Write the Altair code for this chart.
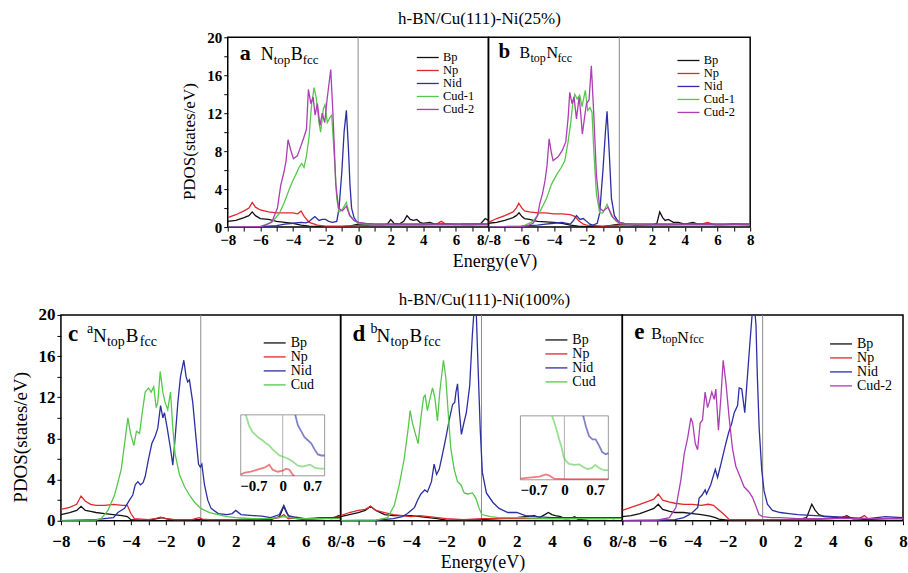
import altair as alt
import pandas as pd

SERIF = "Liberation Serif"

# ---------------- data (energy eV, PDOS states/eV) ----------------
A_BP = [(-8,0.6),(-7.5,0.7),(-7,1.0),(-6.7,1.2),(-6.5,1.6),(-6.3,1.2),(-6,0.9),(-5.5,0.8),(-5,0.6),(-4.5,0.5),(-4,0.4),(-3.5,0.2),(-3,0.1),(-2,0.05),(-1,0.05),(-0.5,0.1),(0,0.3),(0.5,0.3),(1,0.25),(1.5,0.2),(1.8,0.3),(2.0,0.8),(2.2,0.4),(2.5,0.3),(2.8,0.6),(3.0,1.2),(3.2,0.8),(3.4,0.7),(3.6,0.8),(3.8,0.5),(4.0,0.4),(4.4,0.5),(4.7,0.3),(5,0.3),(5.5,0.3),(6,0.25),(6.5,0.3),(7,0.3),(7.5,0.3),(7.8,0.9),(8,0.7)]
A_NP = [(-8,1.0),(-7.5,1.3),(-7,1.7),(-6.7,2.0),(-6.5,2.6),(-6.3,2.1),(-6,1.8),(-5.5,1.6),(-5,1.5),(-4.5,1.5),(-4,1.5),(-3.7,1.4),(-3.5,1.7),(-3.3,1.1),(-3,0.5),(-2.5,0.2),(-2,0.1),(-1,0.1),(0,0.15),(1,0.2),(2,0.2),(3,0.2),(4,0.2),(4.8,0.3),(5.1,0.6),(5.4,0.3),(6,0.3),(6.5,0.2),(7,0.2),(7.5,0.3),(8,0.3)]
A_NID = [(-8,0),(-6,0.05),(-5,0.15),(-4.5,0.3),(-4,0.4),(-3.5,0.5),(-3.2,0.45),(-3,0.6),(-2.8,0.9),(-2.65,1.1),(-2.4,0.7),(-2.2,0.8),(-2,0.8),(-1.8,0.6),(-1.58,0.5),(-1.31,0.6),(-1.17,2.0),(-1.0,5.8),(-0.86,10.0),(-0.72,12.3),(-0.6,8.5),(-0.5,4.5),(-0.4,2.0),(-0.25,1.0),(-0.1,0.6),(0.1,0.4),(1,0.3),(2,0.3),(3,0.3),(4,0.3),(5,0.3),(6,0.3),(7,0.3),(8,0.3)]
A_CUD1 = [(-8,0),(-6,0.05),(-5.6,0.3),(-5.26,0.6),(-4.85,1.4),(-4.55,2.5),(-4.24,3.9),(-4.03,4.8),(-3.83,5.5),(-3.62,6.3),(-3.46,6.7),(-3.32,6.3),(-3.17,7.5),(-3.01,9.5),(-2.85,13.0),(-2.7,14.7),(-2.56,13.5),(-2.4,11.0),(-2.3,10.0),(-2.13,12.5),(-2.03,12.9),(-1.89,11.0),(-1.74,11.5),(-1.62,11.8),(-1.48,8.0),(-1.31,3.0),(-1.17,1.6),(-1.0,1.8),(-0.85,2.2),(-0.72,2.6),(-0.6,1.8),(-0.52,1.3),(-0.25,0.7),(0.05,0.4),(0.5,0.3),(1,0.25),(2,0.2),(4,0.2),(6,0.2),(8,0.2)]
A_CUD2 = [(-8,0),(-6,0.05),(-5.7,0.2),(-5.3,0.5),(-4.95,2.0),(-4.75,4.4),(-4.55,5.8),(-4.42,7.0),(-4.3,9.2),(-4.13,8.1),(-3.97,7.2),(-3.73,7.5),(-3.52,8.5),(-3.32,9.5),(-3.17,10.3),(-3.05,14.5),(-2.9,13.0),(-2.76,13.7),(-2.64,11.8),(-2.5,13.0),(-2.34,10.7),(-2.2,12.0),(-2.05,11.0),(-1.9,13.5),(-1.68,16.6),(-1.54,11.8),(-1.37,4.5),(-1.2,2.0),(-0.97,1.7),(-0.72,2.2),(-0.52,1.2),(-0.25,0.7),(0.05,0.5),(0.5,0.35),(1,0.3),(2,0.3),(4,0.3),(6,0.3),(8,0.3)]

B_BP = [(-8,0.4),(-7.5,0.5),(-7,0.7),(-6.5,1.0),(-6.3,1.2),(-6.13,1.5),(-5.95,1.1),(-5.8,0.9),(-5.5,0.8),(-5,0.6),(-4.5,0.55),(-4,0.5),(-3.5,0.4),(-3,0.2),(-2.5,0.1),(-2,0.05),(-1,0.05),(0,0.3),(0.5,0.3),(1,0.2),(2,0.2),(2.3,0.4),(2.47,1.6),(2.65,1.0),(2.8,0.7),(3.0,0.8),(3.3,0.5),(3.6,0.5),(4,0.3),(4.5,0.5),(4.8,0.3),(5.5,0.3),(6,0.2),(7,0.3),(8,0.2)]
B_NP = [(-8,0.5),(-7.5,0.9),(-7,1.2),(-6.5,1.6),(-6.3,2.0),(-6.15,2.5),(-5.95,2.0),(-5.8,1.7),(-5.5,1.6),(-5,1.5),(-4.5,1.5),(-4,1.4),(-3.5,1.4),(-3,1.3),(-2.7,1.1),(-2.5,0.7),(-2.2,0.3),(-2,0.2),(-1,0.1),(0,0.2),(1,0.2),(2,0.2),(3,0.2),(4,0.3),(5,0.3),(5.4,0.5),(5.7,0.3),(6,0.2),(7,0.3),(8,0.3)]
B_NID = [(-8,0),(-6,0.1),(-5,0.2),(-4.5,0.3),(-4,0.4),(-3.5,0.5),(-3,0.3),(-2.8,0.7),(-2.62,1.2),(-2.4,0.8),(-2.2,0.9),(-2.0,0.6),(-1.8,0.3),(-1.6,0.2),(-1.35,0.4),(-1.2,1.5),(-1.0,6.0),(-0.85,10.0),(-0.75,12.2),(-0.62,8.0),(-0.48,3.0),(-0.3,1.2),(-0.15,0.8),(0,0.5),(0.5,0.3),(2,0.3),(4,0.3),(6,0.3),(8,0.3)]
B_CUD1 = [(-8,0),(-6,0.05),(-5.88,0.1),(-5.27,0.6),(-4.86,1.6),(-4.45,3.0),(-4.15,4.5),(-3.84,5.5),(-3.54,6.3),(-3.33,7.0),(-3.13,9.0),(-2.97,11.0),(-2.85,13.0),(-2.72,14.0),(-2.58,13.5),(-2.42,13.9),(-2.28,12.7),(-2.08,14.4),(-1.93,12.3),(-1.79,12.6),(-1.67,12.1),(-1.56,8.0),(-1.4,3.5),(-1.2,1.5),(-1.0,1.5),(-0.75,2.4),(-0.49,1.2),(-0.18,0.6),(0.1,0.4),(0.5,0.3),(2,0.2),(4,0.2),(6,0.2),(8,0.2)]
B_CUD2 = [(-8,0),(-6,0.05),(-5.6,0.15),(-5.27,0.4),(-5.0,1.2),(-4.86,2.5),(-4.7,3.5),(-4.55,4.8),(-4.42,6.5),(-4.29,9.3),(-4.15,7.8),(-4.05,7.0),(-3.74,7.4),(-3.48,8.1),(-3.27,9.0),(-3.13,11.5),(-3.03,14.2),(-2.89,13.0),(-2.77,13.7),(-2.62,11.4),(-2.46,13.7),(-2.36,12.0),(-2.26,9.8),(-2.13,11.5),(-2.01,13.0),(-1.85,13.4),(-1.71,17.0),(-1.56,11.8),(-1.4,5.5),(-1.2,2.0),(-0.99,1.7),(-0.69,2.1),(-0.42,1.1),(-0.08,0.55),(0.3,0.35),(1,0.3),(2,0.3),(4,0.3),(6,0.3),(8,0.3)]

C_BP = [(-8,0.6),(-7.5,0.8),(-7.1,1.0),(-6.85,1.4),(-6.6,1.0),(-6.3,0.9),(-6,0.8),(-5.5,0.7),(-5,0.6),(-4.5,0.5),(-4.2,0.4),(-4,0.1),(-3.5,0.05),(-3,0.05),(-2.5,0.2),(-2.2,0.3),(-2,0.2),(-1.5,0.05),(0,0.1),(1,0.1),(2,0.1),(3,0.15),(4,0.1),(4.5,0.4),(4.75,1.4),(4.9,0.8),(5.1,0.3),(5.5,0.2),(6,0.1),(6.5,0.2),(7,0.3),(7.5,0.2),(7.9,0.5),(8,0.3)]
C_NP = [(-8,1.1),(-7.5,1.3),(-7.1,1.6),(-6.85,2.4),(-6.6,1.9),(-6.3,1.6),(-6,1.5),(-5.5,1.5),(-5,1.6),(-4.5,1.5),(-4.2,1.5),(-4.0,0.7),(-3.8,0.2),(-3,0.1),(-2.6,0.2),(-2.3,0.35),(-2,0.2),(-1.5,0.1),(-0.5,0.1),(-0.1,0.3),(0.1,0.15),(0.5,0.1),(1,0.1),(2,0.1),(3,0.15),(4,0.2),(4.5,0.3),(4.75,0.6),(5,0.2),(5.5,0.35),(6,0.1),(7,0.2),(8,0.4)]
C_NID = [(-8,0),(-6,0.1),(-5,0.3),(-4.74,0.8),(-4.36,1.2),(-4.08,2.0),(-3.89,2.5),(-3.75,3.5),(-3.6,3.8),(-3.45,3.5),(-3.3,3.7),(-3.18,4.3),(-2.99,6.0),(-2.8,7.5),(-2.61,8.2),(-2.46,9.0),(-2.3,11.2),(-2.17,10.0),(-2.08,10.5),(-1.92,9.0),(-1.73,7.0),(-1.6,5.4),(-1.47,8.0),(-1.31,11.5),(-1.16,14.0),(-0.97,15.6),(-0.84,14.0),(-0.75,13.5),(-0.65,13.7),(-0.46,11.5),(-0.27,8.0),(-0.13,5.5),(-0.03,5.2),(0.06,5.5),(0.21,3.5),(0.4,2.0),(0.59,1.2),(1,0.7),(1.5,0.6),(1.8,0.7),(2.0,1.0),(2.3,0.6),(3,0.5),(3.5,0.45),(4,0.3),(4.5,0.6),(4.75,1.5),(5,0.5),(5.5,0.3),(6,0.2),(7,0.3),(8,0.3)]
C_CUD = [(-8,0),(-6,0.05),(-5.7,0.2),(-5.31,1.0),(-4.93,2.5),(-4.55,5.0),(-4.36,7.5),(-4.17,10.0),(-4.02,8.5),(-3.83,7.3),(-3.68,8.7),(-3.5,8.5),(-3.35,10.5),(-3.18,12.5),(-2.99,12.9),(-2.84,12.5),(-2.69,13.0),(-2.55,11.0),(-2.46,11.5),(-2.32,14.5),(-2.17,12.5),(-2.04,11.5),(-1.89,10.8),(-1.73,12.5),(-1.6,9.0),(-1.47,6.5),(-1.22,4.5),(-0.93,3.3),(-0.65,2.5),(-0.36,1.8),(0,1.2),(0.5,0.8),(1,0.6),(1.5,0.4),(2,0.3),(3,0.2),(4,0.2),(4.75,0.4),(5.5,0.2),(6,0.2),(7,0.2),(8,0.2)]

D_BP = [(-8,0.4),(-7.5,0.6),(-7,0.8),(-6.6,1.0),(-6.3,1.4),(-6.0,1.0),(-5.5,0.6),(-5,0.5),(-4.5,0.5),(-4,0.5),(-3.5,0.4),(-3,0.3),(-2.5,0.2),(-2,0.05),(-1,0.05),(0,0.1),(1,0.2),(2,0.3),(2.5,0.4),(3,0.5),(3.3,0.3),(3.6,0.6),(3.8,0.8),(4.0,0.6),(4.2,0.5),(4.5,0.4),(4.7,0.2),(5.0,0.2),(5.3,0.4),(5.5,0.1),(6,0.2),(6.5,0.3),(7,0.3),(7.5,0.2),(8,0.3)]
D_NP = [(-8,0.5),(-7.5,0.8),(-7,1.0),(-6.6,1.1),(-6.3,1.4),(-6.0,1.0),(-5.5,0.8),(-5,0.6),(-4.5,0.5),(-4,0.4),(-3.5,0.5),(-3,0.4),(-2.5,0.3),(-2,0.2),(-1,0.1),(0,0.2),(1,0.2),(2,0.2),(3,0.2),(4,0.2),(5,0.2),(6,0.2),(7,0.2),(8,0.3)]
D_NID = [(-8,0),(-6,0.05),(-5,0.2),(-4.5,0.4),(-4.2,0.7),(-4,1.0),(-3.8,1.3),(-3.63,2.0),(-3.44,2.6),(-3.22,3.0),(-3.07,2.8),(-2.84,3.8),(-2.69,5.5),(-2.55,4.5),(-2.4,5.0),(-2.21,6.5),(-2.03,8.0),(-1.83,9.8),(-1.64,11.3),(-1.52,11.5),(-1.45,12.5),(-1.36,13.3),(-1.25,10.5),(-1.14,8.4),(-1.0,9.5),(-0.86,10.5),(-0.67,13.1),(-0.52,18.0),(-0.42,20.5),(-0.3,20.5),(-0.22,16.3),(-0.07,8.9),(0.05,4.7),(0.28,2.7),(0.64,1.8),(1,1.2),(1.5,0.8),(2,0.8),(2.5,0.5),(3,0.4),(4,0.3),(5,0.3),(6,0.3),(7,0.3),(8,0.3)]
D_CUD = [(-8,0),(-6,0.05),(-5.33,0.3),(-4.95,1.5),(-4.67,3.5),(-4.39,6.0),(-4.16,9.0),(-4.05,10.7),(-3.92,9.5),(-3.73,8.3),(-3.6,7.5),(-3.44,10.0),(-3.29,12.0),(-3.2,12.2),(-3.07,10.7),(-2.91,12.0),(-2.78,12.9),(-2.65,12.0),(-2.5,9.7),(-2.37,12.5),(-2.27,14.0),(-2.16,15.6),(-2.03,14.0),(-1.87,10.0),(-1.74,7.0),(-1.55,5.0),(-1.36,3.8),(-1.17,3.5),(-0.98,2.7),(-0.79,2.6),(-0.51,2.7),(-0.32,2.2),(-0.13,1.2),(0.02,0.6),(0.5,0.4),(1,0.3),(2,0.3),(4,0.2),(6,0.2),(8,0.2)]

E_BP = [(-8,0.4),(-7.5,0.5),(-7,0.7),(-6.5,1.0),(-6.2,1.2),(-5.95,1.6),(-5.7,1.1),(-5.3,0.9),(-5,0.8),(-4.5,0.8),(-4,0.7),(-3.5,0.6),(-3,0.45),(-2.7,0.3),(-2.5,0.15),(-2,0.05),(-1,0.05),(0,0.05),(1,0.1),(2,0.1),(2.5,0.3),(2.8,1.6),(3.0,1.0),(3.2,0.6),(3.5,0.4),(4,0.35),(4.5,0.3),(4.8,0.5),(5.1,0.2),(6,0.1),(7,0.2),(8,0.2)]
E_NP = [(-8,1.0),(-7.5,1.3),(-7,1.6),(-6.5,1.9),(-6.2,2.1),(-5.95,2.6),(-5.7,2.0),(-5.3,1.8),(-5,1.7),(-4.5,1.6),(-4,1.6),(-3.5,1.5),(-3.1,1.6),(-2.8,1.5),(-2.6,1.2),(-2.2,0.6),(-1.9,0.1),(-1,0.1),(0,0.1),(1,0.1),(2,0.1),(3,0.1),(4,0.2),(4.8,0.4),(5.2,0.15),(5.5,0.2),(5.8,0.5),(6,0.2),(7,0.2),(8,0.3)]
E_NID = [(-8,0),(-6,0.05),(-5,0.1),(-4.5,0.3),(-4.19,0.6),(-4,0.8),(-3.7,1.3),(-3.62,2.2),(-3.45,2.5),(-3.28,3.0),(-3.2,2.6),(-2.96,3.5),(-2.7,5.0),(-2.57,4.2),(-2.38,5.5),(-2.13,7.3),(-1.95,8.5),(-1.76,9.5),(-1.62,10.5),(-1.43,11.2),(-1.34,12.9),(-1.19,12.8),(-1.02,10.5),(-0.9,13.3),(-0.73,17.2),(-0.58,20.5),(-0.45,20.5),(-0.38,19.0),(-0.3,13.9),(-0.2,9.0),(-0.05,4.9),(0.08,2.9),(0.27,1.6),(0.56,1.0),(1,0.8),(1.5,0.7),(2,0.6),(3,0.5),(4,0.4),(5,0.3),(6,0.2),(7,0.4),(8,0.3)]
E_CUD2 = [(-8,0),(-6,0.05),(-5.32,0.3),(-4.94,1.3),(-4.66,4.0),(-4.47,6.5),(-4.28,8.0),(-4.09,10.0),(-3.99,9.5),(-3.84,7.5),(-3.71,6.9),(-3.56,9.5),(-3.43,9.8),(-3.28,12.5),(-3.14,11.0),(-3.05,11.5),(-2.9,12.5),(-2.76,11.8),(-2.67,12.8),(-2.52,8.8),(-2.38,12.0),(-2.25,15.6),(-2.1,13.5),(-1.91,10.0),(-1.72,7.0),(-1.53,5.3),(-1.34,4.5),(-1.06,3.3),(-0.78,2.8),(-0.59,2.3),(-0.4,1.5),(-0.21,0.6),(0,0.4),(0.5,0.3),(1,0.3),(2,0.2),(4,0.2),(6,0.2),(8,0.2)]

# insets (zoom around the Fermi level)
INSET_X_DOMAIN = [-1, 1]
INSET_Y_DOMAIN = [0, 3]
INSET_TICKS = [-0.7, 0, 0.7]
C_IN_CUD = [(-0.88,3.0),(-0.8,2.46),(-0.72,2.16),(-0.64,2.0),(-0.56,1.85),(-0.48,1.75),(-0.4,1.6),(-0.32,1.5),(-0.24,1.3),(-0.16,1.15),(-0.08,1.0),(0,0.95),(0.12,0.85),(0.24,0.7),(0.36,0.5),(0.48,0.45),(0.56,0.5),(0.66,0.55),(0.76,0.4),(0.88,0.35),(1.0,0.35)]
C_IN_NID = [(0.3,3.0),(0.36,2.5),(0.44,2.2),(0.52,1.9),(0.6,1.75),(0.68,1.6),(0.76,1.3),(0.84,1.05),(0.92,1.0),(1.0,1.0)]
C_IN_NP = [(-1.0,0.05),(-0.92,0.15),(-0.76,0.2),(-0.6,0.3),(-0.44,0.4),(-0.32,0.55),(-0.24,0.3),(-0.12,0.2),(0,0.25),(0.08,0.35),(0.16,0.3),(0.24,0.05),(0.28,0.0)]
D_IN_CUD = [(-0.28,3.0),(-0.23,2.7),(-0.17,2.3),(-0.12,1.9),(-0.06,1.5),(-0.02,1.1),(0.03,0.9),(0.11,0.75),(0.22,0.7),(0.34,0.72),(0.43,0.6),(0.52,0.5),(0.62,0.55),(0.7,0.7),(0.79,0.55),(0.9,0.45),(1.0,0.45)]
D_IN_NID = [(0.43,3.0),(0.49,2.5),(0.56,2.05),(0.64,1.9),(0.71,1.9),(0.79,1.6),(0.86,1.3),(0.94,1.2),(1.0,1.25)]
D_IN_NP = [(-1.0,0.05),(-0.8,0.1),(-0.57,0.15),(-0.42,0.25),(-0.34,0.2),(-0.23,0.05),(0,0.03),(1.0,0.03)]

X_TICKS = list(range(-8, 9))
Y_TICKS = list(range(0, 21, 2))

COLORS = {"Bp": "#111111", "Np": "#e3262b", "Nid": "#2b2fa3",
          "Cud-1": "#55c84b", "Cud": "#55c84b", "Cud-2": "#ad3db3"}
WIDTHS = {"Bp": 1.3, "Np": 1.3, "Nid": 1.9, "Cud-1": 2.5, "Cud": 2.5, "Cud-2": 2.3}
LEGEND_LINE = "M-1,0H3.4"


def long_df(series):
    rows = []
    for name, pts in series.items():
        for x, y in pts:
            rows.append({"x": x, "y": y, "s": name})
    return pd.DataFrame(rows)


def txt(s, x, y, size, weight="normal"):
    return alt.Chart(pd.DataFrame({"t": [s]})).mark_text(
        align="left", baseline="alphabetic", font=SERIF, fontSize=size,
        fontWeight=weight, color="black"
    ).encode(text="t:N", x=alt.value(x), y=alt.value(y))


def panel(series, w, h, fs, label_expr, texts, legend_xy, legend_fs, legend_pad,
          show_y=False, y_title_fs=17, y_title_xy=None,
          x_title=False, x_title_xy=None, x_label_pad=1, inset=None, title=None):
    names = list(series.keys())
    df = long_df(series)
    xscale = alt.Scale(domain=[-8, 8], nice=False, zero=False)
    yscale = alt.Scale(domain=[0, 20], nice=False)
    xkw = dict(values=X_TICKS, labelExpr=label_expr, tickSize=4, domain=False, grid=False,
               labelFont=SERIF, labelFontSize=fs, labelFontWeight="bold", labelColor="black",
               tickColor="black", labelFlush=False, labelOverlap=False, labelPadding=x_label_pad)
    if x_title:
        xkw.update(title="Energy(eV)", titleFont=SERIF, titleFontSize=18, titleFontWeight="normal",
                   titleColor="black", titleX=x_title_xy[0], titleY=x_title_xy[1],
                   titleBaseline="middle", titleAlign="center")
    else:
        xkw.update(title=None)
    xaxis = alt.Axis(**xkw)
    if show_y:
        yaxis = alt.Axis(values=Y_TICKS, labelExpr="datum.value % 4 == 0 ? datum.label : ''",
                         tickSize=4, domain=False, grid=False, labelFont=SERIF, labelFontSize=fs,
                         labelFontWeight="bold", labelColor="black", tickColor="black", labelPadding=2,
                         title="PDOS(states/eV)", titleFont=SERIF, titleFontSize=y_title_fs,
                         titleFontWeight="normal", titleColor="black",
                         titleX=y_title_xy[0], titleY=y_title_xy[1], titleBaseline="middle",
                         titleAlign="center", titleAngle=270)
    else:
        yaxis = None
    cscale = alt.Scale(domain=names, range=[COLORS[n] for n in names])
    wscale = alt.Scale(domain=names, range=[WIDTHS[n] for n in names])
    legend = alt.Legend(orient="none", legendX=legend_xy[0], legendY=legend_xy[1], title=None,
                        symbolType=LEGEND_LINE, symbolSize=100, symbolStrokeWidth=2,
                        labelFont=SERIF, labelFontSize=legend_fs, labelColor="black",
                        rowPadding=legend_pad, labelOffset=15, padding=0)
    zero = alt.Chart(pd.DataFrame({"x": [0]})).mark_rule(color="#8a8a8a", strokeWidth=1).encode(
        x=alt.X("x:Q", scale=xscale, axis=xaxis))
    lines = alt.Chart(df).mark_line(clip=True).encode(
        x=alt.X("x:Q", scale=xscale, axis=xaxis),
        y=alt.Y("y:Q", scale=yscale, axis=yaxis),
        color=alt.Color("s:N", scale=cscale, legend=legend),
        strokeWidth=alt.StrokeWidth("s:N", scale=wscale, legend=None),
    )
    main = alt.layer(zero, lines, *[txt(*t) for t in texts])
    if inset is not None:
        box, iseries, offset = inset
        ixs = alt.Scale(domain=INSET_X_DOMAIN, range=[box[0], box[1]], nice=False, zero=False)
        iys = alt.Scale(domain=INSET_Y_DOMAIN, range=[box[3], box[2]], nice=False, zero=False)
        iaxis = alt.Axis(values=INSET_TICKS, orient="bottom", offset=offset, ticks=False, domain=False,
                         grid=False, labelFont=SERIF, labelFontSize=fs - 2, labelFontWeight="bold",
                         labelColor="black", labelFlush=False, labelPadding=3, title=None,
                         labelExpr="datum.value == 0 ? '0' : datum.label")
        frame_df = pd.DataFrame({"x0": [INSET_X_DOMAIN[0]], "x1": [INSET_X_DOMAIN[1]],
                                 "y0": [INSET_Y_DOMAIN[0]], "y1": [INSET_Y_DOMAIN[1]]})
        frame = alt.Chart(frame_df).mark_rect(fillOpacity=0, stroke="#9a9a9a", strokeWidth=1).encode(
            x=alt.X("x0:Q", scale=ixs, axis=iaxis), x2="x1:Q",
            y=alt.Y("y0:Q", scale=iys, axis=None), y2="y1:Q")
        izero = alt.Chart(pd.DataFrame({"x": [0], "y0": [INSET_Y_DOMAIN[0]], "y1": [INSET_Y_DOMAIN[1]]})).mark_rule(
            color="#b0b0b0", strokeWidth=1).encode(
            x=alt.X("x:Q", scale=ixs, axis=iaxis), y=alt.Y("y0:Q", scale=iys, axis=None), y2="y1:Q")
        ilines = []
        for name, pts in iseries.items():
            d = pd.DataFrame({"x": [p[0] for p in pts], "y": [p[1] for p in pts]})
            ilines.append(alt.Chart(d).mark_line(color=COLORS[name], opacity=0.6, strokeWidth=1.8).encode(
                x=alt.X("x:Q", scale=ixs, axis=iaxis), y=alt.Y("y:Q", scale=iys, axis=None)))
        ins = alt.layer(frame, izero, *ilines)
        ch = alt.layer(main, ins).resolve_scale(x="independent", y="independent")
    else:
        ch = main
    props = dict(width=w, height=h)
    if title is not None:
        props["title"] = title
    return ch.properties(**props)


ROW1_LBL = "datum.value % 2 != 0 ? '' : (datum.value == 8 ? '8/-8' : datum.label)"
LAST_LBL = "(datum.value % 2 != 0 || datum.value == -8) ? '' : datum.label"
MID_LBL = "(datum.value % 2 != 0 || datum.value == -8) ? '' : (datum.value == 8 ? '8/-8' : datum.label)"

a = panel({"Bp": A_BP, "Np": A_NP, "Nid": A_NID, "Cud-1": A_CUD1, "Cud-2": A_CUD2},
          261, 190, 15, ROW1_LBL,
          [("a", 12, 23, 22, "bold"), ("N", 33, 23, 18), ("top", 46, 27, 13), ("B", 63, 23, 18), ("fcc", 75, 27, 13)],
          (188, 14), 12.5, -0.5, show_y=True, y_title_fs=17, y_title_xy=(-38, 104),
          x_title=True, x_title_xy=(267, 34), x_label_pad=1,
          title=alt.TitleParams("h-BN/Cu(111)-Ni(25%)", anchor="end", align="center", frame="group",
                                dx=-9, offset=2, font=SERIF, fontSize=17, fontWeight="normal", color="black"))
b = panel({"Bp": B_BP, "Np": B_NP, "Nid": B_NID, "Cud-1": B_CUD1, "Cud-2": B_CUD2},
          262, 190, 15, LAST_LBL,
          [("b", 10, 21, 21, "bold"), ("B", 31, 21, 16), ("top", 42, 25, 12), ("N", 58, 21, 16), ("fcc", 69, 25, 12)],
          (188, 17), 12.5, 0, x_label_pad=1)
c = panel({"Bp": C_BP, "Np": C_NP, "Nid": C_NID, "Cud": C_CUD},
          280, 206, 17, ROW1_LBL,
          [("c", 7, 26, 23, "bold"), ("a", 26, 18, 14), ("N", 32, 27, 19), ("top", 46, 31, 14), ("B", 65, 27, 19), ("fcc", 79, 31, 14)],
          (201, 21), 14, -2, show_y=True, y_title_fs=19, y_title_xy=(-40, 122), x_label_pad=9,
          inset=((180, 264, 100, 161), {"Np": C_IN_NP, "Cud": C_IN_CUD, "Nid": C_IN_NID}, -45))
d = panel({"Bp": D_BP, "Np": D_NP, "Nid": D_NID, "Cud": D_CUD},
          282, 206, 17, MID_LBL,
          [("d", 12, 26, 23, "bold"), ("b", 30, 18, 14), ("N", 36, 27, 19), ("top", 50, 31, 14), ("B", 69, 27, 19), ("fcc", 83, 31, 14)],
          (203, 18), 14, -1.5, x_title=True, x_title_xy=(142, 42), x_label_pad=9,
          inset=((180, 268, 101, 165), {"Np": D_IN_NP, "Cud": D_IN_CUD, "Nid": D_IN_NID}, -41),
          title=alt.TitleParams("h-BN/Cu(111)-Ni(100%)", anchor="middle", frame="group", dx=3, offset=5,
                                font=SERIF, fontSize=17, fontWeight="normal", color="black"))
e = panel({"Bp": E_BP, "Np": E_NP, "Nid": E_NID, "Cud-2": E_CUD2},
          281, 206, 17, LAST_LBL,
          [("e", 12, 24, 23, "bold"), ("B", 29, 24, 16), ("top", 40, 28, 12), ("N", 55, 28, 16), ("fcc", 67, 28, 12)],
          (206, 22), 14, -2, x_label_pad=9)

spacer = alt.Chart(pd.DataFrame({"v": [0]})).mark_point(opacity=0).encode(
    x=alt.X("v:Q", axis=None), y=alt.Y("v:Q", axis=None)
).properties(width=167, height=190, view=alt.ViewBackground(stroke="transparent"))

row1 = alt.hconcat(spacer, a, b, spacing=0, bounds="flush").resolve_scale(
    color="independent", strokeWidth="independent")
row2 = alt.hconcat(c, d, e, spacing=0, bounds="flush").resolve_scale(
    color="independent", strokeWidth="independent")

chart = alt.vconcat(row1, row2, spacing=19).resolve_scale(
    color="independent", strokeWidth="independent"
).configure_view(stroke="black", strokeWidth=1.5).properties(
    padding={"left": 11, "top": 9, "right": 0, "bottom": 0}, background="white")

chart.save("out.html", embed_options={"renderer": "svg", "actions": False})
